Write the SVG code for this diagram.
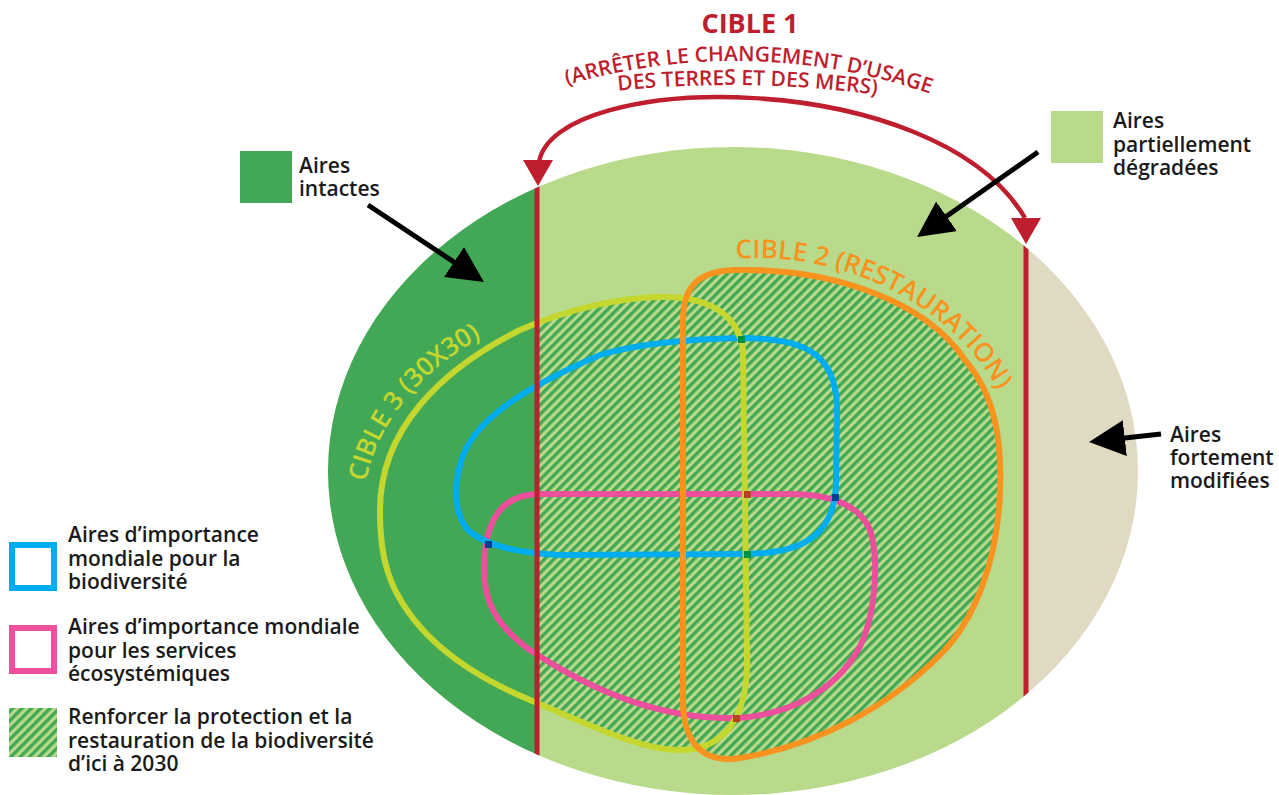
<svg xmlns="http://www.w3.org/2000/svg" width="1279" height="795" viewBox="0 0 1279 795">
<defs>
<style>
.lbl{font-family:"Open Sans","Noto Sans","Liberation Sans",sans-serif;font-size:21px;font-weight:600;fill:#1a1a1a}
.ct{font-family:"Open Sans","Noto Sans","Liberation Sans",sans-serif}
.shape{fill:none;stroke-width:6;stroke-linejoin:round}
.arr{stroke:#000;stroke-width:5;fill:none;marker-end:url(#blk)}
.redl{stroke:#be1e2d;stroke-width:5}
</style>
<clipPath id="ell"><ellipse cx="733" cy="471" rx="405" ry="324"/></clipPath>
<clipPath id="rside"><rect x="537" y="0" width="742" height="795"/></clipPath>
<pattern id="hatch" patternUnits="userSpaceOnUse" width="6.6" height="6.6" patternTransform="rotate(45)">
<rect width="6.6" height="6.6" fill="#b9da8a"/><rect width="3.4" height="6.6" fill="#43a856"/>
</pattern>
<marker id="blk" markerUnits="userSpaceOnUse" markerWidth="36" markerHeight="36" viewBox="0 0 36 36" refX="16" refY="18" orient="auto"><path d="M0,0 L36,18 L0,36 Z" fill="#000"/></marker>
<path id="redHead" d="M-15,-26 L15,-26 L0,0 Z" fill="#be1e2d"/>
<path id="limeShape" d="M660,297 C705,296 738,312 743,350 L747,660 C748,722 720,750 680,750 C640,750 590,725 530,700 C470,675 420,640 395,590 C383,565 380,540 380,510 C380,430 440,370 520,330 C570,308 620,298 660,297 Z"/>
<path id="orangeShape" d="M683,320 C683,285 700,271 735,270 C830,268 925,300 965,360 C995,395 1002,440 1000,490 C998,560 975,620 940,655 C890,705 820,745 740,758 C700,764 683,740 683,700 Z"/>
<path id="tp1" d="M335,213.8 A600,600 0 0 1 1135,213.8"/>
<path id="tp2" d="M330,160.7 A1095,1095 0 0 1 1130,160.7"/>
<path id="tp3" d="M735,259 C850,250 960,310 1003,400"/>
<path id="tp4" d="M366,482 C378,420 425,362 505,326"/>
</defs>

<g id="background-zones" clip-path="url(#ell)">
<rect x="300" y="140" width="237" height="660" fill="#43a856"/>
<rect x="537" y="140" width="489" height="660" fill="#b9da8a"/>
<rect x="1026" y="140" width="150" height="660" fill="#e0dac2"/>
<g clip-path="url(#rside)">
<use href="#limeShape" fill="url(#hatch)"/>
<use href="#orangeShape" fill="url(#hatch)"/>
</g>
</g>

<g id="pink-area">
<path class="shape" stroke="#ec4f9c" d="M540,494 L790,494 C830,494 860,505 870,530 C880,560 875,620 858,650 C835,690 790,715 737,718 C660,720 590,690 530,650 C495,625 484,600 484,570 C484,530 495,494 540,494 Z"/>
</g>
<g id="blue-area">
<path class="shape" stroke="#00aeef" d="M740,338 C800,338 837,350 837,410 L836,480 C836,530 810,553 747,554 L560,555 C520,553 490,547 470,532 C455,518 453,490 460,465 C470,420 530,385 600,355 C640,343 690,339 740,338 Z"/>
</g>
<g id="cible3">
<use href="#limeShape" class="shape" stroke="#c4d72e"/>
<text class="ct" font-size="26" font-weight="600" fill="#c4d72e"><textPath href="#tp4" startOffset="0">CIBLE 3 (30X30)</textPath></text>
</g>
<g id="crossings">
<rect x="738" y="336" width="7" height="7" fill="#00923f"/>
<rect x="744" y="551" width="7" height="7" fill="#00923f"/>
<rect x="744" y="491" width="7" height="7" fill="#b4441f"/>
<rect x="733" y="715" width="7" height="7" fill="#b4441f"/>
<rect x="832" y="494" width="7" height="7" fill="#033f8c"/>
<rect x="485" y="541" width="7" height="7" fill="#033f8c"/>
</g>
<g id="limits" clip-path="url(#ell)">
<line class="redl" x1="537" y1="140" x2="537" y2="800"/>
<line class="redl" x1="1026" y1="140" x2="1026" y2="800"/>
</g>
<g id="cible2">
<use href="#orangeShape" class="shape" stroke="#f7931e"/>
<text class="ct" font-size="26" font-weight="600" fill="#f7931e"><textPath href="#tp3" startOffset="1">CIBLE 2 (RESTAURATION)</textPath></text>
</g>

<g id="cible1">
<text class="ct" x="750" y="33" font-size="27" font-weight="700" fill="#be1e2d" text-anchor="middle">CIBLE 1</text>
<text class="ct" font-size="21" font-weight="600" fill="#be1e2d" text-anchor="middle"><textPath href="#tp1" startOffset="452">(ARRÊTER LE CHANGEMENT D’USAGE</textPath></text>
<text class="ct" font-size="21" font-weight="600" fill="#be1e2d" text-anchor="middle"><textPath href="#tp2" startOffset="427">DES TERRES ET DES MERS)</textPath></text>
</g>

<g id="connectors">
<path d="M539,162 C555,70 935,65 1025,218" fill="none" stroke="#be1e2d" stroke-width="4.5"/>
<use href="#redHead" x="538" y="186"/>
<use href="#redHead" x="1026" y="244"/>
<line class="arr" x1="368" y1="205" x2="467.3" y2="270.9"/>
<line class="arr" x1="1038" y1="152" x2="933.4" y2="225.5"/>
<line class="arr" x1="1161" y1="434" x2="1108.9" y2="439.8"/>
</g>

<g id="legend-intactes">
<rect x="240" y="151" width="52" height="52" fill="#43a856"/>
<text class="lbl" x="299" y="173">Aires<tspan x="299" dy="23">intactes</tspan></text>
</g>
<g id="legend-degradees">
<rect x="1051" y="111" width="52" height="52" fill="#b9da8a"/>
<text class="lbl" x="1113" y="128">Aires<tspan x="1113" dy="23.5">partiellement</tspan><tspan x="1113" dy="23.5">dégradées</tspan></text>
</g>
<g id="legend-modifiees">
<text class="lbl" x="1170" y="442">Aires<tspan x="1170" dy="23">fortement</tspan><tspan x="1170" dy="23">modifiées</tspan></text>
</g>
<g id="legend-biodiv">
<rect x="12" y="545" width="42" height="43" fill="none" stroke="#00aeef" stroke-width="6"/>
<text class="lbl" x="68" y="542">Aires d’importance<tspan x="68" dy="23.5">mondiale pour la</tspan><tspan x="68" dy="23.5">biodiversité</tspan></text>
</g>
<g id="legend-services">
<rect x="12" y="628" width="42" height="43" fill="none" stroke="#ec4f9c" stroke-width="6"/>
<text class="lbl" x="68" y="634">Aires d’importance mondiale<tspan x="68" dy="23.5">pour les services</tspan><tspan x="68" dy="23.5">écosystémiques</tspan></text>
</g>
<g id="legend-hatch">
<rect x="9" y="708" width="48" height="49" fill="url(#hatch)"/>
<text class="lbl" x="68" y="724">Renforcer la protection et la<tspan x="68" dy="23.5">restauration de la biodiversité</tspan><tspan x="68" dy="23.5">d’ici à 2030</tspan></text>
</g>
</svg>
